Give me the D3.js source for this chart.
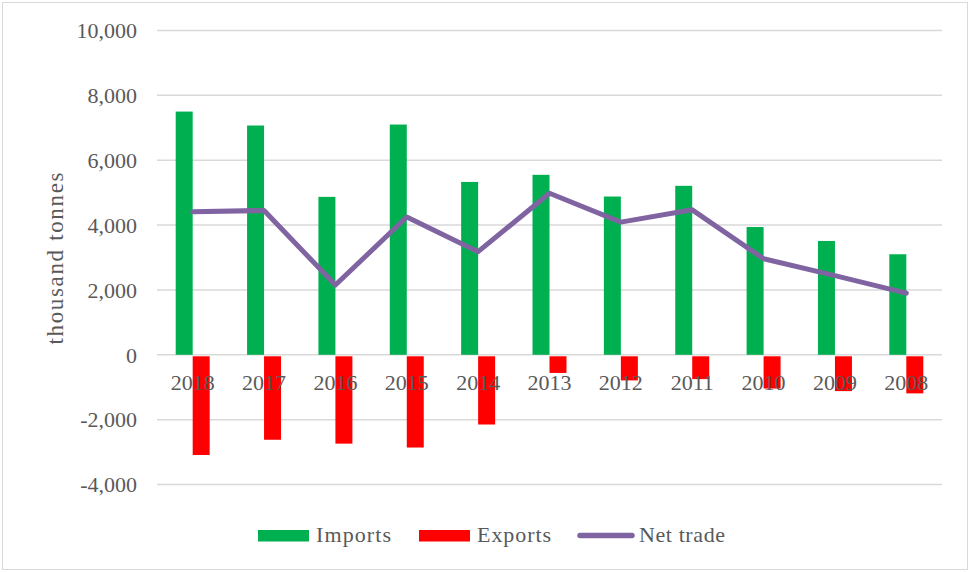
<!DOCTYPE html>
<html>
<head>
<meta charset="utf-8">
<script src="https://cdn.jsdelivr.net/npm/d3@7"></script>
<style>
html,body{margin:0;padding:0;background:#fff;}
svg{display:block;}
text{font-family:"Liberation Serif","DejaVu Serif",serif;fill:#595959;}
</style>
</head>
<body>
<svg id="chart" width="971" height="572"></svg>
<script>
const years = ["2018","2017","2016","2015","2014","2013","2012","2011","2010","2009","2008"];
const imports = [7500,7070,4870,7100,5330,5550,4880,5210,3940,3510,3100];
const exports = [-3090,-2620,-2740,-2860,-2150,-560,-790,-750,-1040,-1120,-1190];
const netTrade = [4410,4450,2150,4250,3180,4980,4090,4470,2960,2440,1900];
const yTicks = [-4000,-2000,0,2000,4000,6000,8000,10000];
const seriesNames = ["Imports","Exports","Net trade"];

const svg = d3.select("#chart");
const W = 971, H = 572;
const m = {left:157, right:942, top:30.5, bottom:484.5};

svg.append("rect").attr("x",2.5).attr("y",2.5).attr("width",W-6).attr("height",H-5)
  .attr("fill","#fff").attr("stroke","#d9d9d9").attr("stroke-width",1);

const x = d3.scaleBand().domain(years).range([m.left, m.right]);
const y = d3.scaleLinear().domain([-4000,10000]).range([m.bottom, m.top]);
const barW = x.bandwidth()/4.2;
const cx = d => x(d) + x.bandwidth()/2;

// gridlines
svg.append("g").selectAll("line").data(yTicks).join("line")
  .attr("x1",m.left).attr("x2",m.right)
  .attr("y1",d=>y(d)).attr("y2",d=>y(d))
  .attr("stroke","#d9d9d9").attr("stroke-width",1.5);

// y axis labels
const fmt = d3.format(",");
const yAxis = d3.axisLeft(y).tickValues(yTicks).tickSize(0).tickPadding(0)
  .tickFormat(d => fmt(d).replace("\u2212","-"));
const gy = svg.append("g").attr("transform",`translate(137,0)`).call(yAxis);
gy.select(".domain").remove();
gy.selectAll("text").style("font-size","22px").attr("fill","#595959")
  .style("font-family",'"Liberation Serif",serif').attr("dy","0.33em");

// bars
svg.append("g").selectAll("rect").data(years).join("rect")
  .attr("x",(d)=>cx(d)-barW).attr("width",barW)
  .attr("y",(d,i)=>y(imports[i])).attr("height",(d,i)=>y(0)-y(imports[i]))
  .attr("fill","#00b050");
svg.append("g").selectAll("rect").data(years).join("rect")
  .attr("x",(d)=>cx(d)).attr("width",barW)
  .attr("y",y(0)+1.5).attr("height",(d,i)=>y(exports[i])-y(0)-1.5)
  .attr("fill","#ff0000");

// x axis labels
const xAxis = d3.axisBottom(x).tickSize(0).tickPadding(0);
const gx = svg.append("g").attr("transform",`translate(0,${y(0)})`).call(xAxis);
gx.select(".domain").remove();
gx.selectAll("text").style("font-size","22px").attr("fill","#595959")
  .style("font-family",'"Liberation Serif",serif').attr("dy","0").attr("y",35);

// net trade line
const line = d3.line().x((d,i)=>cx(years[i])).y(d=>y(d));
svg.append("path").datum(netTrade).attr("d",line)
  .attr("fill","none").attr("stroke","#8064a2").attr("stroke-width",5)
  .attr("stroke-linejoin","round").attr("stroke-linecap","round");

// y title
svg.append("text").attr("transform",`translate(63,${(m.top+m.bottom)/2+1}) rotate(-90)`)
  .attr("text-anchor","middle").style("font-size","23px")
  .attr("textLength",172).attr("lengthAdjust","spacing").text("thousand tonnes");

// legend
const lg = svg.append("g");
lg.append("rect").attr("x",258).attr("y",530).attr("width",51).attr("height",11.5).attr("fill","#00b050");
lg.append("text").attr("x",316).attr("y",542).style("font-size","22px")
  .attr("textLength",75).attr("lengthAdjust","spacing").text(seriesNames[0]);
lg.append("rect").attr("x",419).attr("y",530).attr("width",51).attr("height",11.5).attr("fill","#ff0000");
lg.append("text").attr("x",477).attr("y",542).style("font-size","22px")
  .attr("textLength",74).attr("lengthAdjust","spacing").text(seriesNames[1]);
lg.append("line").attr("x1",580).attr("x2",632).attr("y1",535.5).attr("y2",535.5)
  .attr("stroke","#8064a2").attr("stroke-width",5.5).attr("stroke-linecap","round");
lg.append("text").attr("x",639).attr("y",542).style("font-size","22px")
  .attr("textLength",86).attr("lengthAdjust","spacing").text(seriesNames[2]);
</script>
</body>
</html>
